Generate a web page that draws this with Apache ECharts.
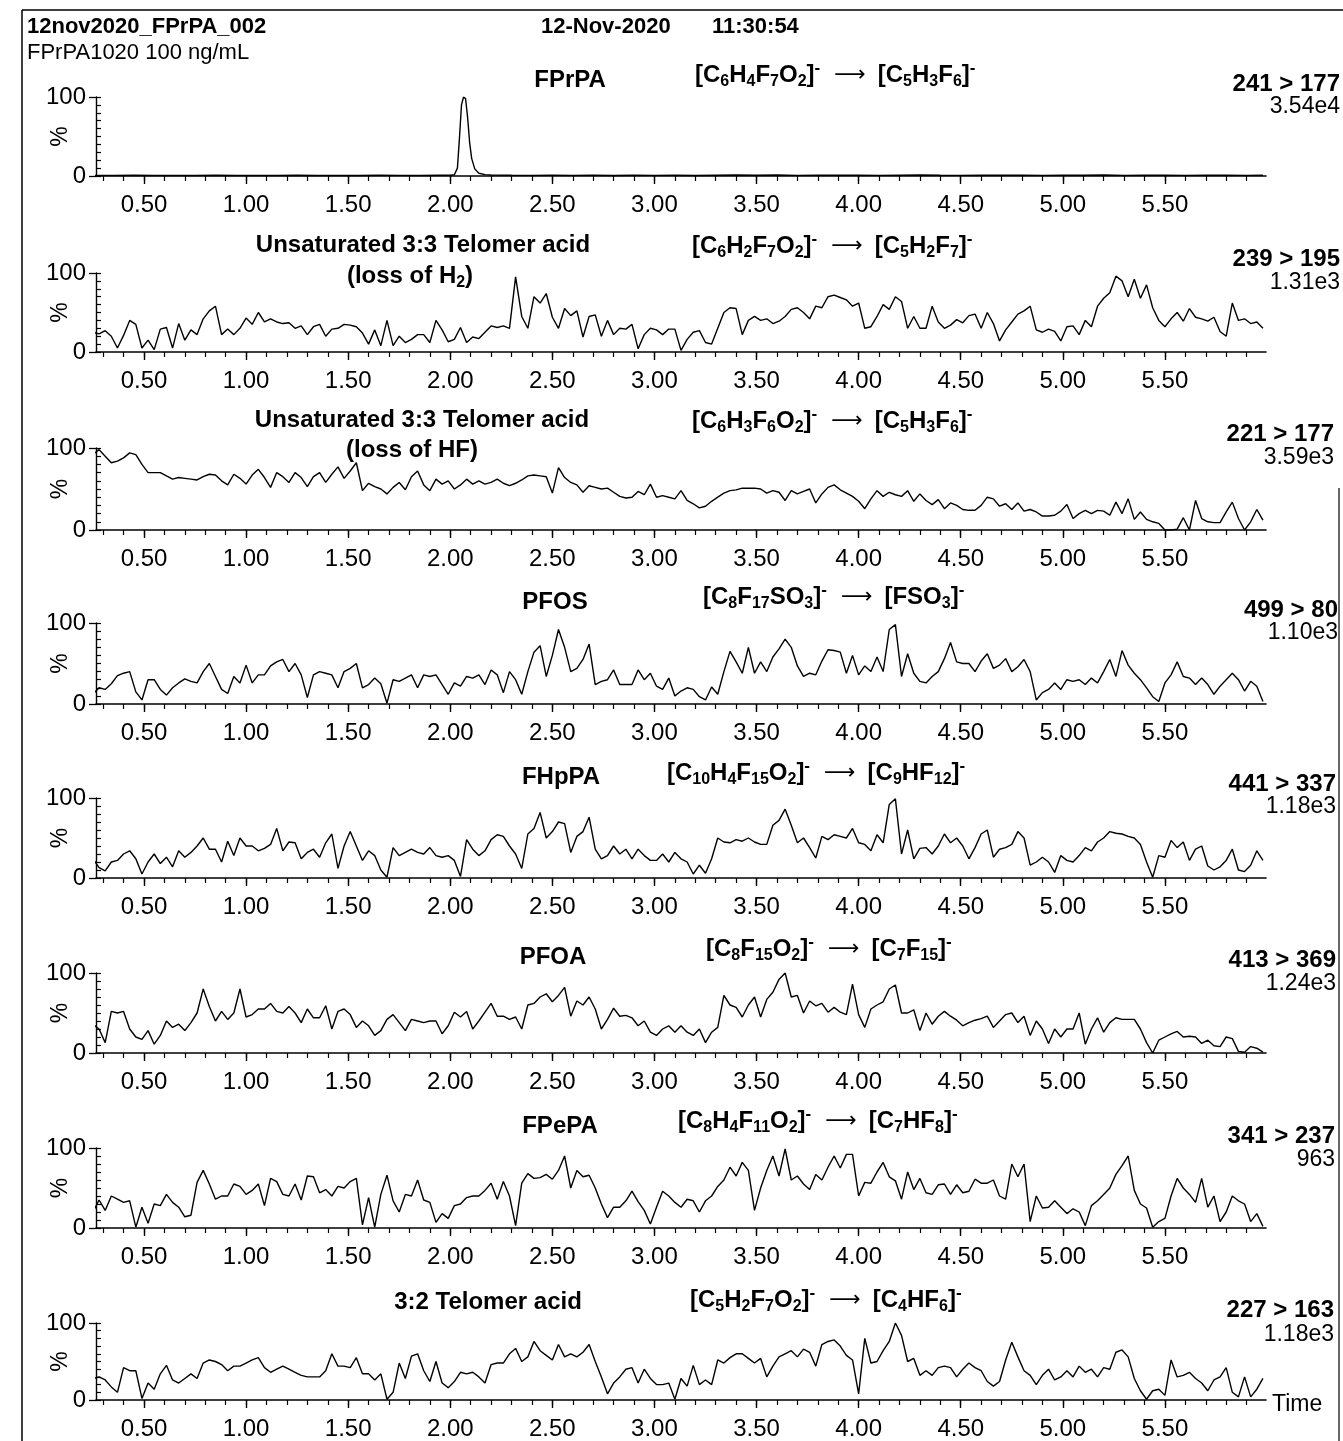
<!DOCTYPE html>
<html><head><meta charset="utf-8">
<script src="https://cdn.jsdelivr.net/npm/echarts@6/dist/echarts.min.js"></script>
<style>html,body{margin:0;padding:0;background:#fff}#c{width:1343px;height:1441px}</style>
</head><body><div id="c"></div>
<script>
// ---------- DATA ----------
// sampling grid for the noise traces (min)
const T0 = 0.25, DT = 0.03, NPTS = 192;
const times = [];
for (let i = 0; i < NPTS; i++) times.push(+(T0 + DT * i).toFixed(3));

// x tick labels (min)
const majorTicks = [0.5, 1.0, 1.5, 2.0, 2.5, 3.0, 3.5, 4.0, 4.5, 5.0, 5.5];
const yLabelTicks = [0, 100];

// Panel 1: FPrPA 241 > 177 (own time points, peak at 2.07)
const fprpaTimes = [0.25,0.35,0.45,0.55,0.65,0.75,0.85,0.95,1.05,1.15,1.25,1.35,1.45,1.55,1.65,1.75,1.85,1.95,
  2.00,2.02,2.035,2.045,2.055,2.065,2.075,2.085,2.095,2.105,2.12,2.14,2.17,2.20,
  2.30,2.40,2.50,2.60,2.70,2.80,2.90,3.00,3.10,3.20,3.30,3.40,3.50,3.60,3.70,3.80,3.90,4.00,4.10,4.20,4.30,4.40,4.50,4.60,4.70,4.80,4.90,5.00,5.10,5.20,5.30,5.40,5.50,5.60,5.70,5.80,5.90,5.98];
const fprpaValues = [0.8,0.6,0.9,0.7,0.8,0.6,0.9,0.7,0.8,0.7,0.9,0.6,0.8,0.7,0.9,0.8,0.7,0.9,
  0.9,1.5,10,48,90,100,98,74,42,22,9,3.5,1.8,1.2,
  0.9,0.8,1.0,0.8,0.9,0.7,1.0,0.8,0.9,0.7,0.9,1.2,0.9,1.3,0.8,1.0,0.9,1.1,0.8,1.0,1.2,0.9,0.8,1.0,0.9,1.1,0.8,1.0,0.9,1.2,0.8,0.9,1.0,0.8,0.9,1.0,0.8,0.9];

// Panel 2: Unsaturated 3:3 telomer acid (loss of H2) 239 > 195
const h2Loss = [25,23,27,20,5,21,40,35,5,15, 3,29,31,5,36,15,28,22,42,52,
  58,22,29,22,30,43,35,50,38,42, 38,36,37,30,33,22,32,35,20,29,
  30,35,34,32,24,10,28,8,40,8, 20,12,16,22,22,12,40,28,13,16,
  31,12,19,17,25,33,31,33,30,95, 45,30,70,62,74,44,30,55,46,52,
  19,45,47,20,40,22,30,29,35,4, 22,30,28,22,29,29,2,16,25,27,
  12,10,30,50,56,55,22,40,45,40, 42,36,39,45,54,56,50,42,58,56,
  70,72,69,66,58,62,30,32,45,60, 54,70,64,30,45,30,30,58,38,30,
  34,41,37,46,48,30,50,36,14,28, 38,48,52,58,28,25,29,26,14,32,
  33,22,40,32,58,68,75,96,90,70, 92,68,85,56,40,32,42,50,39,55,
  44,42,39,44,26,20,62,40,42,36, 38,30];

// Panel 3: Unsaturated 3:3 telomer acid (loss of HF) 221 > 177
const hfLoss = [92,98,90,82,84,88,94,92,80,70, 70,70,66,62,64,63,62,61,65,68,
  67,60,55,68,63,56,67,74,64,52, 70,65,58,70,64,53,65,70,58,68,
  77,63,72,82,48,57,53,50,44,52, 58,49,65,72,55,48,62,56,60,50,
  55,62,56,60,56,58,62,57,54,57, 61,66,67,66,65,45,76,64,58,55,
  46,54,52,50,51,46,41,39,40,47, 43,56,40,42,40,38,48,36,32,27,
  29,35,40,45,48,49,51,51,51,50, 45,48,46,36,48,44,47,50,33,44,
  52,55,49,45,41,35,26,38,48,41, 46,43,41,48,35,44,36,31,37,26,
  33,30,25,24,24,30,40,38,29,32, 25,33,23,25,22,17,17,18,23,31,
  14,20,24,20,24,23,18,34,20,38, 13,22,13,10,8,0,0,1,15,0,
  36,14,10,9,9,22,34,14,0,10, 25,12];

// Panel 4: PFOS 499 > 80
const pfos = [12,20,18,25,35,38,40,15,5,30, 30,18,11,20,26,31,28,26,40,50,
  34,18,13,34,26,48,26,36,36,47, 52,55,40,50,36,8,36,40,38,36,
  20,40,44,50,20,24,32,25,1,30, 28,32,36,20,36,34,36,24,12,26,
  22,34,32,36,24,42,36,14,40,30, 12,40,64,72,34,60,92,70,40,44,
  55,74,24,28,30,42,24,24,24,42, 30,38,22,18,32,10,16,20,18,9,
  5,21,12,40,65,52,38,70,38,52, 40,58,68,80,70,47,34,38,36,53,
  67,66,64,38,60,36,47,40,58,40, 92,98,34,62,38,28,26,34,40,56,
  76,52,50,50,40,53,62,44,48,56, 40,46,55,40,5,14,18,26,18,30,
  28,30,24,32,26,40,55,34,66,48, 38,30,20,9,3,26,36,52,34,32,
  24,32,24,12,22,30,38,30,16,28, 22,3];

// Panel 5: FHpPA 441 > 337
const fhppa = [24,13,9,20,22,30,34,24,5,20, 30,18,26,14,34,26,32,40,50,36,
  36,20,46,28,50,40,40,34,37,42, 62,34,45,44,24,32,36,26,44,55,
  12,40,58,40,22,34,28,10,1,38, 28,32,36,32,30,38,28,26,28,22,
  2,48,36,28,34,48,54,52,40,30, 12,55,62,82,50,58,70,68,32,52,
  58,76,36,24,28,40,30,36,24,36, 28,22,22,30,20,32,24,20,5,16,
  6,24,50,45,44,48,46,50,45,42, 42,66,72,86,66,44,50,38,25,52,
  48,54,52,50,62,44,42,34,54,44, 92,99,30,60,24,37,38,30,40,55,
  44,50,40,24,38,55,60,26,36,38, 42,58,50,16,20,26,20,7,28,22,
  20,28,38,34,45,50,58,56,55,52, 50,42,20,1,28,26,47,38,45,22,
  36,40,15,10,14,22,36,10,8,16, 34,22];

// Panel 6: PFOA 413 > 369
const pfoa = [36,30,13,52,50,52,30,20,17,28, 11,22,40,32,36,28,38,50,80,58,
  40,52,42,50,80,45,48,55,55,62, 52,50,58,50,38,55,44,44,59,30,
  52,55,48,32,40,34,22,28,42,48, 38,28,42,40,38,40,40,24,34,51,
  45,52,30,40,51,62,46,46,42,45, 30,60,62,70,74,64,72,82,46,65,
  60,70,55,30,42,56,46,47,44,34, 40,26,22,30,34,26,34,26,22,30,
  13,26,32,72,60,57,45,60,70,45, 67,76,92,100,70,72,50,65,59,62,
  51,57,51,48,86,48,32,55,60,64, 80,85,50,50,54,28,50,36,46,52,
  46,41,34,38,41,43,46,32,40,48, 50,38,46,22,40,30,12,30,20,30,
  30,50,11,30,44,26,38,44,42,42, 42,30,13,0,16,20,24,27,20,21,
  20,12,16,9,8,20,18,2,1,8, 6,1];

// Panel 7: FPePA 341 > 237
const fpepa = [20,35,22,40,36,32,34,1,26,6, 30,28,42,32,26,14,16,57,72,55,
  36,40,40,55,52,42,47,55,28,62, 58,42,40,55,35,65,64,44,48,40,
  52,50,58,62,4,38,1,42,66,34, 20,42,40,60,35,32,7,18,12,28,
  30,38,40,40,47,56,36,58,40,3, 56,68,62,63,67,61,72,90,50,72,
  64,66,50,30,13,26,26,34,46,33, 22,5,26,46,40,32,26,36,34,20,
  34,40,52,60,76,65,82,72,22,50, 72,90,65,99,60,65,55,48,67,60,
  76,90,75,92,92,40,57,56,70,82, 64,59,36,70,48,62,44,42,54,55,
  42,54,44,46,61,56,56,60,40,36, 80,64,80,8,40,25,26,34,26,18,
  24,20,3,28,34,42,50,67,78,90, 47,30,25,1,8,12,40,62,50,42,
  32,62,26,40,8,20,40,34,30,8, 18,2];

// Panel 8: 3:2 Telomer acid 227 > 163
const telomer32 = [28,30,26,17,10,42,38,38,2,22, 14,34,45,26,22,28,34,28,48,52,
  50,46,38,44,44,48,52,55,42,36, 40,44,40,36,32,30,30,30,38,60,
  44,44,42,55,34,34,26,34,1,10, 48,28,57,60,38,24,50,22,16,24,
  36,34,36,30,22,46,48,48,60,67, 50,56,76,64,58,52,72,56,60,56,
  62,72,50,30,8,22,30,40,42,22, 40,28,20,20,22,1,28,18,45,20,
  26,20,52,48,55,60,60,54,48,54, 30,44,56,60,64,56,66,62,44,72,
  76,78,70,58,52,8,80,48,50,64, 76,100,84,50,54,32,38,32,42,44,
  42,30,40,48,42,38,24,18,24,52, 75,56,38,32,20,32,40,26,30,38,
  30,44,36,40,30,42,40,62,65,56, 28,12,1,12,14,6,52,30,32,36,
  28,22,12,26,30,42,10,4,30,4, 14,28];

// labels per panel
const compoundNames = ['FPrPA', ['Unsaturated 3:3 Telomer acid', '(loss of H2)'], ['Unsaturated 3:3 Telomer acid', '(loss of HF)'], 'PFOS', 'FHpPA', 'PFOA', 'FPePA', '3:2 Telomer acid'];
const precursorIons = ['C6H4F7O2', 'C6H2F7O2', 'C6H3F6O2', 'C8F17SO3', 'C10H4F15O2', 'C8F15O2', 'C8H4F11O2', 'C5H2F7O2'];
const productIons = ['C5H3F6', 'C5H2F7', 'C5H3F6', 'FSO3', 'C9HF12', 'C7F15', 'C7HF8', 'C4HF6'];
const transitions = ['241 > 177', '239 > 195', '221 > 177', '499 > 80', '441 > 337', '413 > 369', '341 > 237', '227 > 163'];
const intensities = ['3.54e4', '1.31e3', '3.59e3', '1.10e3', '1.18e3', '1.24e3', '963', '1.18e3'];

// ---------- LAYOUT ----------
const FONT = "'Liberation Sans', Arial, Helvetica, sans-serif";
const panelTop = [97, 273, 448, 623, 798, 973, 1148, 1323];
const panelBottom = [176, 352, 530, 704, 878, 1053, 1228, 1403];
const GRID_LEFT = 96, GRID_RIGHT_X = 1266;
const X_MIN = 0.265, X_MAX = 5.995;
const minorTicks = [];
for (let v = 3; v <= 59; v++) minorTicks.push(v / 10);

const titleY = [80, 245, 420, 602, 777, 957, 1126, 1302];
const title2Y = [null, 276, 450, null, null, null, null, null];
const titleX = [570, 423, 422, 555, 561, 553, 560, 488];
const formulaX = [695, 692, 692, 703, 667, 706, 678, 690];
const formulaY = [75, 246, 421, 597, 773, 949, 1121, 1300];
const rightX = [1340, 1340, 1334, 1338, 1336, 1336, 1335, 1334];
const right1Y = [84, 259, 434, 610, 784, 960, 1136, 1310];
const right2Y = [107, 283, 458, 633, 807, 984, 1160, 1335];

const traces = [null, h2Loss, hfLoss, pfos, fhppa, pfoa, fpepa, telomer32];

const grids = [], xAxes = [], yAxes = [], series = [];
for (let k = 0; k < 8; k++) {
  grids.push({ left: GRID_LEFT, width: GRID_RIGHT_X - GRID_LEFT, top: panelTop[k], height: panelBottom[k] - panelTop[k] });
  xAxes.push({
    type: 'value', gridIndex: k, min: X_MIN, max: X_MAX, position: 'bottom',
    axisLine: { show: true, onZero: false, lineStyle: { color: '#000', width: 1.6 } },
    axisTick: { show: true, customValues: majorTicks, length: 8, lineStyle: { color: '#000', width: 1.4 } },
    axisLabel: { show: true, customValues: majorTicks, formatter: v => v.toFixed(2), color: '#000', fontSize: 24, fontFamily: FONT, margin: 17 },
    splitLine: { show: false }
  });
  yAxes.push({
    type: 'value', gridIndex: k, min: 0, max: 100, position: 'left',
    axisLine: { show: true, lineStyle: { color: '#000', width: 1.4 } },
    axisTick: { show: true, customValues: yLabelTicks, length: 7, lineStyle: { color: '#000', width: 1.3 } },
    axisLabel: { show: true, customValues: yLabelTicks, color: '#000', fontSize: 24, fontFamily: FONT, margin: 10 },
    splitLine: { show: false },
    name: '%', nameLocation: 'middle', nameGap: 24, nameRotate: 90, nameMoveOverlap: false,
    nameTextStyle: { color: '#000', fontSize: 23, fontFamily: FONT }
  });
}
for (let k = 0; k < 8; k++) {
  xAxes.push({
    type: 'value', gridIndex: k, min: X_MIN, max: X_MAX, position: 'bottom',
    axisLine: { show: false }, axisLabel: { show: false }, splitLine: { show: false },
    axisTick: { show: true, customValues: minorTicks, length: 5, lineStyle: { color: '#000', width: 1.2 } }
  });
  yAxes.push({
    type: 'value', gridIndex: k, min: 0, max: 100, interval: 10, position: 'left',
    axisLine: { show: false }, axisLabel: { show: false }, splitLine: { show: false },
    axisTick: { show: true, inside: true, length: 5, lineStyle: { color: '#000', width: 1.2 } }
  });
}
for (let k = 0; k < 8; k++) {
  const data = k === 0
    ? fprpaTimes.map((t, i) => [t, fprpaValues[i]])
    : times.map((t, i) => [t, traces[k][i]]);
  series.push({
    type: 'line', xAxisIndex: k, yAxisIndex: k, data: data,
    showSymbol: false, symbol: 'none', clip: true, silent: true,
    lineStyle: { color: '#000', width: 1.4 }
  });
}

// ---------- TEXT ----------
const rich = {
  m: { fontSize: 24, fontWeight: 'bold', fontFamily: FONT, lineHeight: 30, fill: '#000' },
  s: { fontSize: 16, fontWeight: 'bold', fontFamily: FONT, lineHeight: 12, verticalAlign: 'bottom', fill: '#000' },
  p: { fontSize: 17, fontWeight: 'bold', fontFamily: FONT, lineHeight: 14, verticalAlign: 'top', fill: '#000' },
  r: { fontSize: 22, fontFamily: "'DejaVu Sans', sans-serif", lineHeight: 30, padding: [0, 12, 0, 14], fill: '#000' }
};
function ion(s) {
  return s.replace(/([A-Z][a-z]?)(\d*)/g, (m, el, n) => '{m|' + el + '}' + (n ? '{s|' + n + '}' : ''));
}
function formula(a, b) {
  return '{m|[}' + ion(a) + '{m|]}{p|-}{r|\u27F6}{m|[}' + ion(b) + '{m|]}{p|-}';
}
function txt(x, y, text, font, align) {
  return { type: 'text', x: x, y: y, silent: true,
    style: { text: text, font: font, fill: '#000', align: align || 'left', verticalAlign: 'middle' } };
}
const BOLD = 'bold 24px ' + FONT, REG = '23px ' + FONT;
const graphics = [
  { type: 'line', silent: true, shape: { x1: 22, y1: 10, x2: 1343, y2: 10 }, style: { stroke: '#000', lineWidth: 1.5 } },
  { type: 'line', silent: true, shape: { x1: 22, y1: 10, x2: 22, y2: 1441 }, style: { stroke: '#000', lineWidth: 1.5 } },
  { type: 'line', silent: true, shape: { x1: 1339, y1: 488, x2: 1339, y2: 1441 }, style: { stroke: '#000', lineWidth: 1.2 } },
  txt(27, 27, '12nov2020_FPrPA_002', 'bold 22px ' + FONT),
  txt(27, 53, 'FPrPA1020 100 ng/mL', '22px ' + FONT),
  txt(541, 27, '12-Nov-2020', 'bold 22px ' + FONT),
  txt(712, 27, '11:30:54', 'bold 22px ' + FONT),
  txt(1272, 1405, 'Time', REG)
];
for (let k = 0; k < 8; k++) {
  const nm = compoundNames[k];
  if (Array.isArray(nm)) {
    graphics.push(txt(titleX[k], titleY[k], nm[0], BOLD, 'center'));
    const second = nm[1] === '(loss of H2)'
      ? { type: 'text', x: 410, y: title2Y[k], silent: true,
          style: { text: '{m|(loss of H}{s|2}{m|)}', rich: rich, align: 'center', verticalAlign: 'middle' } }
      : txt(412, title2Y[k], nm[1], BOLD, 'center');
    graphics.push(second);
  } else {
    graphics.push(txt(titleX[k], titleY[k], nm, BOLD, 'center'));
  }
  graphics.push({ type: 'text', x: formulaX[k], y: formulaY[k], silent: true,
    style: { text: formula(precursorIons[k], productIons[k]), rich: rich, align: 'left', verticalAlign: 'middle' } });
  graphics.push(txt(rightX[k], right1Y[k], transitions[k], BOLD, 'right'));
  graphics.push(txt(rightX[k], right2Y[k], intensities[k], REG, 'right'));
}

const chart = echarts.init(document.getElementById('c'), null, { renderer: 'canvas' });
chart.setOption({
  animation: false,
  backgroundColor: '#fff',
  grid: grids, xAxis: xAxes, yAxis: yAxes, series: series,
  graphic: graphics
});
</script></body></html>
